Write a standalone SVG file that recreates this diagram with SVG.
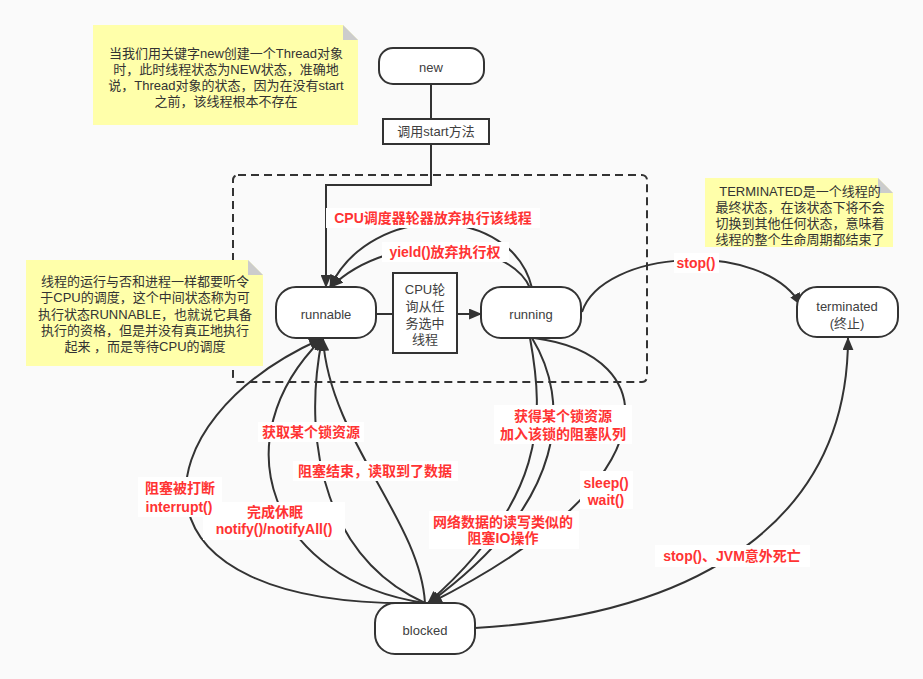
<svg xmlns="http://www.w3.org/2000/svg" width="923" height="679" viewBox="0 0 923 679">
  <defs>
    <marker id="arrow" viewBox="0 0 12 10" refX="11" refY="5" markerWidth="13" markerHeight="11" markerUnits="userSpaceOnUse" orient="auto">
      <path d="M0,0 L12,5 L0,10 Z" fill="#333"/>
    </marker>
    <style>
      .node { fill: #fff; stroke: #333; stroke-width: 2; }
      .box { fill: #fff; stroke: #333; stroke-width: 2; }
      .ntext { font-family: "Liberation Sans", "Noto Sans CJK SC", sans-serif; font-size: 13px; fill: #404040; text-anchor: middle; dominant-baseline: central; }
      .note { fill: #ffffaa; }
      .fold { fill: #cccccc; }
      .notetext { font-family: "Liberation Sans", "Noto Sans CJK SC", sans-serif; font-size: 13px; fill: #333; text-anchor: middle; dominant-baseline: central; }
      .edge { fill: none; stroke: #333; stroke-width: 2; }
      .arr { marker-end: url(#arrow); }
      .lblbg { fill: #fff; }
      .lbl { font-family: "Liberation Sans", "Noto Sans CJK SC", sans-serif; font-size: 14px; font-weight: bold; fill: #ff3333; text-anchor: middle; dominant-baseline: central; }
      .frame { fill: none; stroke: #333; stroke-width: 2; stroke-dasharray: 8 5; }
    </style>
  </defs>

  <rect x="0" y="0" width="923" height="679" fill="#fafafa"/>

  <!-- dashed region around runnable / running -->
  <rect class="frame" x="233" y="175" width="414" height="207" rx="5"/>

  <!-- notes -->
  <g id="note-new">
    <polygon class="note" points="93,25 343,25 358,40 358,125 93,125"/>
    <polygon class="fold" points="343,25 343,40 358,40"/>
    <text class="notetext" x="226" y="53">当我们用关键字new创建一个Thread对象</text>
    <text class="notetext" x="226" y="69">时，此时线程状态为NEW状态，准确地</text>
    <text class="notetext" x="226" y="85">说，Thread对象的状态，因为在没有start</text>
    <text class="notetext" x="226" y="101">之前，该线程根本不存在</text>
  </g>
  <g id="note-runnable">
    <polygon class="note" points="26,260 248,260 263,275 263,366 26,366"/>
    <polygon class="fold" points="248,260 248,275 263,275"/>
    <text class="notetext" x="145" y="281">线程的运行与否和进程一样都要听令</text>
    <text class="notetext" x="145" y="297">于CPU的调度，这个中间状态称为可</text>
    <text class="notetext" x="145" y="314">执行状态RUNNABLE，也就说它具备</text>
    <text class="notetext" x="145" y="330">执行的资格，但是并没有真正地执行</text>
    <text class="notetext" x="145" y="346">起来 ，而是等待CPU的调度</text>
  </g>
  <g id="note-terminated">
    <polygon class="note" points="705,178 878,178 893,193 893,247 705,247"/>
    <polygon class="fold" points="878,178 878,193 893,193"/>
    <text class="notetext" x="800" y="191">TERMINATED是一个线程的</text>
    <text class="notetext" x="800" y="207">最终状态，在该状态下将不会</text>
    <text class="notetext" x="800" y="223">切换到其他任何状态，意味着</text>
    <text class="notetext" x="800" y="239">线程的整个生命周期都结束了</text>
  </g>

  <!-- connectors -->
  <g id="connectors">
    <!-- new -> start() -> runnable -->
    <path class="edge" d="M431,85 L431,119"/>
    <path class="edge arr" d="M431,143 L431,185 L326,185 L326,287"/>
    <!-- runnable -> running through the CPU box -->
    <path class="edge" d="M376,314 L393,314"/>
    <path class="edge arr" d="M457,314 L481,314"/>
    <!-- running -> runnable -->
    <path class="edge arr" d="M532,288 C512,205 372,200 330,287"/>
    <path class="edge arr" d="M530,288 C510,240 392,228 331,287"/>
    <!-- running -> terminated -->
    <path class="edge arr" d="M582,312 C602,250 762,238 801,305"/>
    <!-- blocked -> terminated -->
    <path class="edge arr" d="M475,628 C700,615 848,520 848,338"/>
    <!-- running -> blocked -->
    <path class="edge arr" d="M530,338 C545,420 545,500 428,603"/>
    <path class="edge arr" d="M532,338 C570,400 570,500 429,603"/>
    <path class="edge arr" d="M534,338 C665,355 675,480 430,603"/>
    <!-- blocked -> runnable -->
    <path class="edge arr" d="M425,603 C110,610 140,420 321,339"/>
    <path class="edge arr" d="M425,603 C270,580 220,440 322,339"/>
    <path class="edge arr" d="M425,603 C330,560 300,450 322,339"/>
    <path class="edge arr" d="M425,603 C420,520 330,440 323,339"/>
  </g>

  <!-- edge labels -->
  <g id="labels">
    <rect class="lblbg" x="326" y="208" width="214" height="20"/>
    <text class="lbl" x="433" y="218">CPU调度器轮器放弃执行该线程</text>
    <rect class="lblbg" x="382" y="242" width="127" height="20"/>
    <text class="lbl" x="445" y="252">yield()放弃执行权</text>
    <rect class="lblbg" x="674" y="253" width="45" height="20"/>
    <text class="lbl" x="696" y="263">stop()</text>
    <rect class="lblbg" x="258" y="422" width="106" height="20"/>
    <text class="lbl" x="311" y="432">获取某个锁资源</text>
    <rect class="lblbg" x="293" y="461" width="165" height="20"/>
    <text class="lbl" x="375" y="471">阻塞结束，读取到了数据</text>
    <rect class="lblbg" x="203" y="502" width="142" height="38"/>
    <text class="lbl" x="275" y="512">完成休眠</text>
    <text class="lbl" x="274" y="529">notify()/notifyAll()</text>
    <rect class="lblbg" x="138" y="477" width="84" height="40"/>
    <text class="lbl" x="180" y="488">阻塞被打断</text>
    <text class="lbl" x="179" y="507">interrupt()</text>
    <rect class="lblbg" x="494" y="405" width="138" height="39"/>
    <text class="lbl" x="563" y="416">获得某个锁资源</text>
    <text class="lbl" x="563" y="434">加入该锁的阻塞队列</text>
    <rect class="lblbg" x="580" y="471" width="53" height="38"/>
    <text class="lbl" x="606" y="483">sleep()</text>
    <text class="lbl" x="606" y="500">wait()</text>
    <rect class="lblbg" x="429" y="511" width="150" height="38"/>
    <text class="lbl" x="503" y="522">网络数据的读写类似的</text>
    <text class="lbl" x="503" y="538">阻塞IO操作</text>
    <rect class="lblbg" x="655" y="545" width="155" height="22"/>
    <text class="lbl" x="732" y="556">stop()、JVM意外死亡</text>
  </g>

  <!-- nodes -->
  <g id="node-new">
    <rect class="node" x="379" y="48" width="105" height="36" rx="14"/>
    <text class="ntext" x="431" y="67">new</text>
  </g>
  <g id="node-start">
    <rect class="box" x="383" y="119" width="106" height="25"/>
    <text class="ntext" x="436" y="131">调用start方法</text>
  </g>
  <g id="node-runnable">
    <rect class="node" x="276" y="287" width="100" height="51" rx="20"/>
    <text class="ntext" x="326" y="314">runnable</text>
  </g>
  <g id="node-cpu">
    <rect class="box" x="393" y="273" width="64" height="80"/>
    <text class="ntext" x="425" y="289">CPU轮</text>
    <text class="ntext" x="425" y="306">询从任</text>
    <text class="ntext" x="425" y="323">务选中</text>
    <text class="ntext" x="425" y="339">线程</text>
  </g>
  <g id="node-running">
    <rect class="node" x="481" y="287" width="100" height="51" rx="20"/>
    <text class="ntext" x="531" y="314">running</text>
  </g>
  <g id="node-terminated">
    <rect class="node" x="797" y="287" width="101" height="50" rx="20"/>
    <text class="ntext" x="847" y="306">terminated</text>
    <text class="ntext" x="847" y="323">(终止)</text>
  </g>
  <g id="node-blocked">
    <rect class="node" x="375" y="603" width="100" height="51" rx="20"/>
    <text class="ntext" x="425" y="630">blocked</text>
  </g>
</svg>
